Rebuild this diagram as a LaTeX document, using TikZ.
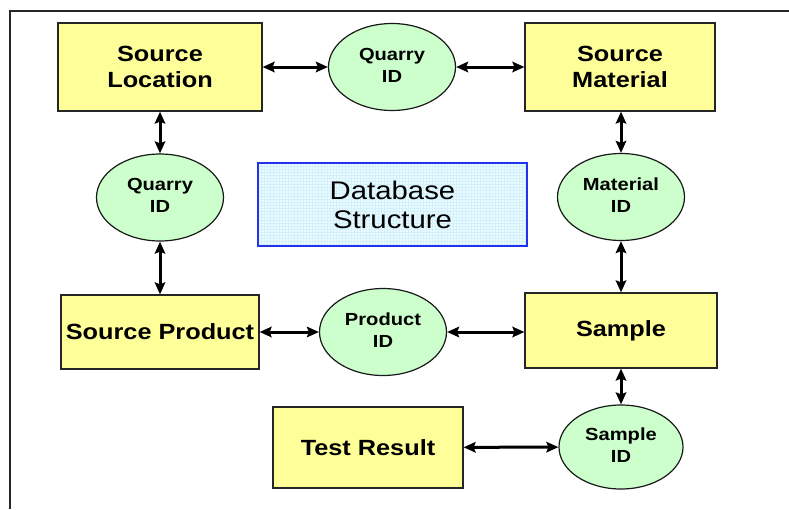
\documentclass[tikz,border=0pt]{standalone}
\usepackage{fontspec}
\setmainfont[FakeStretch=1.15]{Liberation Sans}
\usetikzlibrary{arrows.meta,shapes.geometric}

\definecolor{boxyellow}{HTML}{FFFF99}
\definecolor{idgreen}{HTML}{CCFFCC}
\definecolor{titlefill}{HTML}{EAFBFF}
\definecolor{titlegrid}{HTML}{D4F0FA}
\definecolor{titleedge}{HTML}{2233EE}

% two-line label of a key ellipse, set a little above the centre
\newcommand{\idlabel}[2]{\raisebox{5pt}{\begin{tabular}{@{}c@{}}#1\\[1pt]#2\end{tabular}}}

\tikzset{
  entity/.style={draw=black!85, line width=1.2pt, fill=boxyellow, rectangle,
    align=center, inner sep=0pt, font=\fontsize{22}{26}\selectfont\bfseries},
  keyid/.style={draw=black!90, line width=1.2pt, fill=idgreen, ellipse,
    inner sep=0pt, minimum width=127pt, minimum height=87pt,
    font=\fontsize{17.5}{21}\selectfont\bfseries},
  link/.style={line width=3pt,
    {Stealth[length=12pt,width=10.5pt,inset=2pt]}-{Stealth[length=12pt,width=10.5pt,inset=2pt]}},
}

\begin{document}
\begin{tikzpicture}[x=1pt,y=-1pt]
\useasboundingbox (0,0) rectangle (789,509);

% open frame: top and left edges only
\draw[line width=2pt, black!85] (789,11) -- (10,11) -- (10,509);

% entity boxes
\node[entity, minimum width=204pt, minimum height=88pt] (sl) at (160,67) {Source\\Location};
\node[entity, minimum width=190pt, minimum height=88pt] (sm) at (620,67) {Source\\Material};
\node[entity, minimum width=198pt, minimum height=74pt] (sp) at (160,332) {Source Product};
\node[entity, minimum width=192pt, minimum height=75pt] (smp) at (621,330.5) {Sample};
\node[entity, minimum width=190pt, minimum height=81pt] (tr) at (368,447.5) {Test Result};

% key ellipses
\node[keyid] (qtop) at (392,67) {\idlabel{Quarry}{ID}};
\node[keyid] (qleft) at (160,197.5) {\idlabel{Quarry}{ID}};
\node[keyid] (mid) at (621,197) {\idlabel{Material}{ID}};
\node[keyid] (pid) at (383,332) {\idlabel{Product}{ID}};
\node[keyid, minimum width=124pt, minimum height=84pt] (sid) at (621,447) {\idlabel{Sample}{ID}};

% title panel with fine grid
\fill[titlefill] (258,163) rectangle (527,246);
\begin{scope}
  \clip (258,163) rectangle (527,246);
  \foreach \gx in {261,264,...,527} \draw[titlegrid, line width=0.3pt] (\gx,163) -- (\gx,246);
  \foreach \gy in {166,169,...,246} \draw[titlegrid, line width=0.3pt] (258,\gy) -- (527,\gy);
\end{scope}
\node[draw=titleedge, line width=1.1pt, rectangle, minimum width=269pt, minimum height=83pt,
  align=center, inner sep=0pt, font=\fontsize{25.5}{29}\selectfont] (title) at (392.5,204.5)
  {Database\\Structure};

% relationships
\draw[link] (sl) -- (qtop);
\draw[link] (qtop) -- (sm);
\draw[link] (sl.south) -- (sl.south |- qleft.north);
\draw[link] (qleft.south) -- (qleft.south |- sp.north);
\draw[link] (mid.north) -- (mid.north |- sm.south);
\draw[link] (mid.south) -- (mid.south |- smp.north);
\draw[link] (sp) -- (pid);
\draw[link] (pid.east) -- (pid.east -| smp.west);
\draw[link] (sid.north) -- (sid.north |- smp.south);
\draw[link] (tr) -- (sid);
\end{tikzpicture}
\end{document}
